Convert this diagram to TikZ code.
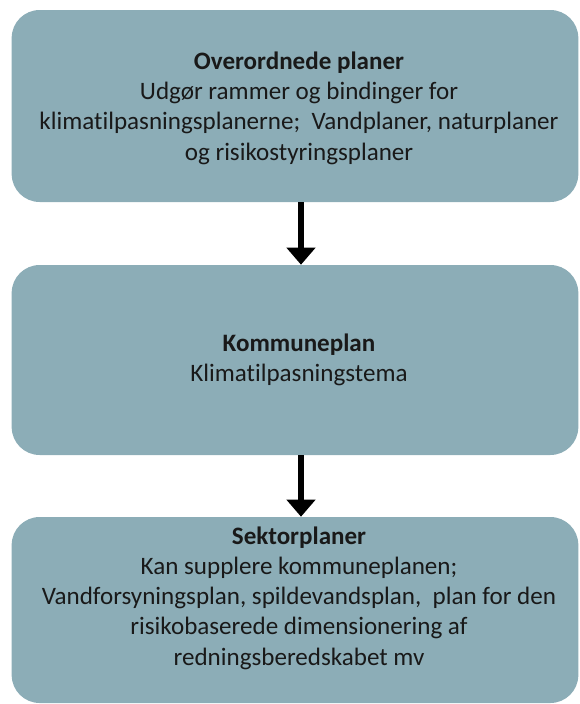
\documentclass[tikz,border=0pt]{standalone}
\usepackage{fontspec}
\setmainfont{Carlito}[RawFeature=-liga]
\usepackage{tikz}
\usetikzlibrary{arrows.meta}
\definecolor{planfill}{RGB}{140,173,183}
\definecolor{plantextcol}{RGB}{25,25,25}
\tikzset{
  planbox/.style={draw=none, fill=planfill, rounded corners=21pt,
    minimum width=425pt, inner sep=0pt},
  plantext/.style={align=center, text=plantextcol, inner sep=0pt,
    font=\fontsize{18.8}{22.7}\selectfont},
  flowarrow/.style={line width=4.5pt, -{Triangle[width=21pt,length=12.75pt]}}
}

\begin{document}
\begin{tikzpicture}[x=0.75pt, y=-0.75pt]
        \useasboundingbox (0,0) rectangle (579,704);
        % boxes
        \node[planbox, minimum height=144pt] (over) at (295,106) {};
        \node[planbox, minimum height=142.5pt] (komm) at (295,360) {};
        \node[planbox, minimum height=139.5pt] (sektor) at (295,610) {};
        % texts in the boxes
        \node[plantext] (overtxt) at (299,108) {\textbf{Overordnede planer}\\
          Udgør rammer og bindinger for\\
          klimatilpasningsplanerne;\ \ Vandplaner, naturplaner\\
          og risikostyringsplaner};
        \node[plantext] (kommtxt) at (299,360) {\textbf{Kommuneplan}\\
          Klimatilpasningstema};
        \node[plantext] (sektortxt) at (299,598) {\textbf{Sektorplaner}\\
          Kan supplere\ kommuneplanen;\\
          Vandforsyningsplan, spildevandsplan,\ \ plan for den\\
          risikobaserede\ dimensionering\ af\\
          redningsberedskabet\ mv};
        % arrows
        \coordinate (axis) at (301,0);
        \draw[flowarrow] (over.south -| axis) -- (komm.north -| axis);
        \draw[flowarrow] (komm.south -| axis) -- (sektor.north -| axis);
\end{tikzpicture}
\end{document}
